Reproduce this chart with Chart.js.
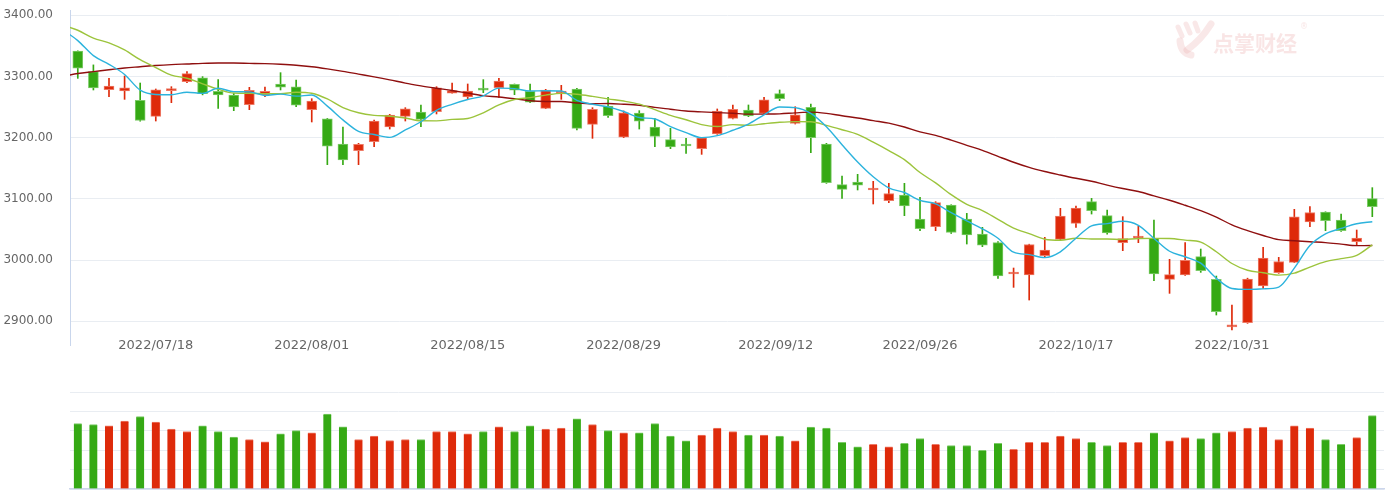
<!DOCTYPE html>
<html><head><meta charset="utf-8">
<script src="https://cdn.jsdelivr.net/npm/chart.js@4.4.0/dist/chart.umd.min.js"></script>
<style>
html,body{margin:0;padding:0;background:#fff;}
#wrap{position:relative;width:1386px;height:490px;overflow:hidden;background:#fff;}
#price{position:absolute;left:0;top:0;}
#vol{position:absolute;left:0;top:365px;}
</style></head><body>
<div id="wrap"><canvas id="price" width="1386" height="365"></canvas><canvas id="vol" width="1386" height="125"></canvas></div>
<script>
const dates = ['2022/07/11','2022/07/12','2022/07/13','2022/07/14','2022/07/15','2022/07/18','2022/07/19','2022/07/20','2022/07/21','2022/07/22','2022/07/25','2022/07/26','2022/07/27','2022/07/28','2022/07/29',
'2022/08/01','2022/08/02','2022/08/03','2022/08/04','2022/08/05','2022/08/08','2022/08/09','2022/08/10','2022/08/11','2022/08/12','2022/08/15','2022/08/16','2022/08/17','2022/08/18','2022/08/19','2022/08/22','2022/08/23','2022/08/24','2022/08/25','2022/08/26','2022/08/29','2022/08/30','2022/08/31',
'2022/09/01','2022/09/02','2022/09/05','2022/09/06','2022/09/07','2022/09/08','2022/09/09','2022/09/13','2022/09/14','2022/09/15','2022/09/16','2022/09/19','2022/09/20','2022/09/21','2022/09/22','2022/09/23','2022/09/26','2022/09/27','2022/09/28','2022/09/29','2022/09/30',
'2022/10/10','2022/10/11','2022/10/12','2022/10/13','2022/10/14','2022/10/17','2022/10/18','2022/10/19','2022/10/20','2022/10/21','2022/10/24','2022/10/25','2022/10/26','2022/10/27','2022/10/28','2022/10/31',
'2022/11/01','2022/11/02','2022/11/03','2022/11/04','2022/11/07','2022/11/08','2022/11/09','2022/11/10','2022/11/11'];

const open = [3341.5,3308,3278.5,3276.3,3261,3235,3277,3291.6,3298,3275.8,
3269.8,3254,3269.8,3287.8,3283,3245.8,3231,3189.7,3178.8,3193.5,
3217.5,3234.9,3242,3242.6,3273,3266.5,3280.6,3281.8,3287.2,3275.8,
3248,3273.1,3279.6,3221.9,3251.8,3200.7,3240.4,3217.5,3196.8,3189.7,
3182.1,3206.1,3231.7,3245.3,3239.8,3272,3223.5,3249.7,3189.7,3123.3,
3127.6,3114.6,3097.1,3106.4,3067.2,3054.6,3090,3067.2,3042.7,3028.5,
2977.3,2975.7,3007.3,3033.9,3060.1,3095.5,3072.6,3028.5,3036,3035.6,
2968.6,2975.7,3005.6,2968.6,2891,2897.8,2957.7,2979.5,2996.4,3062.3,
3078.6,3065.5,3030.1,3100.5];

const high = [3342,3319,3297,3300.8,3289.4,3279.6,3283.4,3308,3299.8,3294.9,
3272.5,3282.3,3282.9,3306.3,3294.3,3263.8,3231.5,3217.5,3190.8,3228.9,
3238.2,3249.1,3253.5,3283.4,3289.4,3287.8,3294.9,3297,3287.8,3287.8,
3279.1,3285.6,3280.7,3249.1,3266,3243.7,3244.2,3231.1,3215.3,3199,
3200.4,3247,3253.5,3253.5,3266,3278,3250.7,3255.1,3190.8,3137.4,
3140.2,3128.7,3125.5,3125.5,3102.6,3095.5,3090.5,3076.4,3053.6,3030.1,
2987.1,3026,3037.2,3084.6,3088.4,3100.9,3081.9,3071,3055.7,3065.5,
3001.3,3028.5,3018.1,2974,2926.6,2970.5,3020.9,3004.5,3083,3087.3,
3079,3075.3,3049.2,3118.4];

const low = [3297,3278,3267,3262.7,3227,3227.3,3257.3,3290,3270,3248,
3244.2,3245.8,3267.1,3278,3250.7,3225.7,3156,3156,3156,3185.4,
3214.2,3227.3,3218.1,3238.8,3273,3263.8,3273.6,3266,3270.3,3257.3,
3247.5,3262.7,3212.6,3199,3233.3,3200.1,3214.2,3185.4,3182.1,3174.5,
3172.8,3205.5,3230.6,3234.4,3238.8,3260.5,3222.4,3175.6,3125.4,3100.9,
3114.6,3091.7,3093.9,3072.6,3048.1,3048.1,3043.5,3026.3,3022,2970.2,
2955.5,2934.8,3005.6,3032.8,3053.6,3075.3,3042.6,3015.4,3028.5,2966.4,
2945.7,2975.2,2980,2910.3,2885.8,2896.7,2953.9,2978.4,2996,3054.6,
3048.1,3047,3024.7,3071];

const close = [3313.6,3281.5,3284.3,3281.7,3228.1,3278.1,3279.4,3304.7,3272.0,3270.0,
3250.4,3277.4,3275.8,3282.6,3253.2,3260.0,3186.3,3163.7,3189.0,3227.0,
3236.9,3247.4,3230.0,3281.7,3276.9,3276.1,3277.9,3292.5,3277.5,3258.1,
3277.8,3276.2,3215.2,3246.3,3236.2,3240.7,3227.2,3202.1,3185.0,3186.5,
3199.9,3243.5,3246.3,3235.6,3262.1,3263.8,3237.5,3199.9,3126.4,3115.6,
3122.4,3117.2,3108.9,3088.4,3051.2,3093.9,3045.1,3041.2,3024.4,2974.2,
2979.8,3025.5,3016.4,3072.0,3084.9,3081.0,3044.4,3035.1,3038.9,2977.6,
2976.3,2999.5,2982.9,2915.9,2893.5,2969.2,3003.4,2997.8,3070.8,3077.8,
3064.5,3048.2,3036.1,3087.3];

const volume = [337.6,332.5,325.6,349.7,373.8,344.5,308.4,296.3,325.6,296.3,
267,255,242.9,284.2,301.5,289.4,385.9,320.4,255,272.2,
249.8,255,255,296.3,296.3,284.2,296.3,320.4,296.3,325.6,
308.4,313.5,361.8,332.5,301.5,289.4,289.4,337.6,272.2,248.1,
277.4,313.5,296.3,277.4,277.4,272.2,248.1,318.7,313.5,241.2,
217.1,230.8,217.1,236,260.1,230.8,224,224,199.8,236,
205,241.2,241.2,272.2,260.1,241.2,224,241.2,241.2,289.4,
248.1,265.3,260.1,289.4,296.3,313.5,318.7,255,325.6,313.5,
255,230.8,265.3,379];

const ma5 = [3358.7,3334.2,3320.0,3303.4,3277.8,3270.7,3270.3,3274.4,3272.5,3280.8,
3275.3,3274.9,3269.1,3271.2,3267.9,3269.8,3251.6,3229.2,3210.4,3205.2,
3200.6,3212.8,3226.1,3244.6,3254.6,3262.4,3268.5,3281.0,3280.2,3276.4,
3276.8,3276.4,3261.0,3254.7,3250.3,3242.9,3233.1,3230.5,3218.2,3208.3,
3200.1,3203.4,3212.2,3222.4,3237.5,3250.3,3249.1,3239.8,3217.9,3188.6,
3160.4,3136.3,3118.1,3110.5,3097.6,3091.9,3077.5,3064.0,3051.2,3035.8,
3012.9,3009.0,3004.1,3013.6,3035.7,3056.0,3059.7,3063.5,3056.9,3035.4,
3014.5,3005.5,2995.0,2970.4,2953.6,2952.2,2953.0,2956.0,2986.9,3023.8,
3042.9,3051.8,3059.5,3062.8];

const ma10 = [3375.6,3362.8,3355.1,3343.4,3327.5,3314.7,3302.3,3297.2,3288.0,3279.3,
3273.0,3272.6,3271.8,3271.9,3274.4,3272.6,3263.3,3249.2,3240.8,3236.6,
3235.2,3232.2,3227.7,3227.5,3229.9,3231.5,3240.7,3253.6,3262.4,3265.5,
3269.6,3272.5,3271.0,3267.5,3263.4,3259.9,3254.8,3245.8,3236.5,3229.3,
3221.5,3218.3,3221.4,3220.3,3222.9,3225.2,3226.3,3226.0,3220.2,3213.1,
3205.4,3192.7,3179.0,3164.2,3143.1,3126.2,3106.9,3091.1,3080.9,3066.7,
3052.4,3043.3,3034.1,3032.4,3035.8,3034.5,3034.4,3033.8,3035.3,3035.6,
3035.3,3032.6,3029.3,3013.7,2994.5,2983.4,2979.3,2975.5,2978.7,2988.7,
2997.6,3002.4,3007.8,3024.9];

const ma30 = [3305,3308,3311,3314,3316,3318,3319.5,3320.5,3321.5,3322,
3322,3321.5,3321,3320,3318.5,3316,3312.5,3308.5,3304,3299.5,
3294.6,3289.2,3284.8,3280.9,3277.2,3272.9,3268.7,3266.6,3263.7,3260.4,
3259.3,3259.1,3256.8,3255.6,3255.8,3254.7,3252.9,3249.5,3246.6,3243.7,
3242.2,3241.0,3240.0,3238.5,3238.6,3239.0,3240.6,3241.8,3239.8,3235.8,
3232.3,3227.9,3223.8,3217.5,3209.6,3203.9,3196.1,3187.6,3179.3,3169.5,
3159.9,3151.5,3144.8,3139.1,3133.7,3128.8,3122.6,3117.0,3112.2,3104.9,
3097.9,3089.6,3080.8,3070.2,3057.6,3048.2,3040.3,3033.5,3031.7,3030.1,
3028.6,3026.2,3023.7,3023.8];

// values of the averages on the trading day before the first one (partly visible at the left edge)
const ma5Prior = 3377.1;
const ma10Prior = 3384.4;
const ma30Prior = 3300.0;

const priceTicks = [2900, 3000, 3100, 3200, 3300, 3400];
const tickDates = ['2022/07/18','2022/08/01','2022/08/15','2022/08/29','2022/09/12','2022/09/26','2022/10/17','2022/10/31'];

// ---------- build ----------
const UP = '#de2a0a', DOWN = '#35a914';
const UP_EDGE = '#ee7a66', DOWN_EDGE = '#7ccb67';
const isUp = i => close[i] >= open[i];
const dayNum = s => Date.UTC(+s.slice(0,4), +s.slice(5,7)-1, +s.slice(8,10)) / 86400000;
function datePos(s) {
  const k = dates.indexOf(s);
  if (k >= 0) return k;
  const d = dayNum(s);
  for (let i = 0; i < dates.length - 1; i++) {
    const a = dayNum(dates[i]), b = dayNum(dates[i+1]);
    if (d > a && d < b) return i + (d - a) / (b - a);
  }
  return 0;
}
const tickPos = tickDates.map(datePos);
const X_MIN = -0.5, X_MAX = dates.length - 0.25;
const noPad = s => { s.paddingTop = 0; s.paddingBottom = 0; s.paddingLeft = 0; s.paddingRight = 0; };

const linePts = (prior, arr) => [{x: -1, y: prior}].concat(arr.map((v, i) => ({x: i, y: v})));
const lineDs = (label, prior, arr, color) => ({
  type: 'line', label, data: linePts(prior, arr), borderColor: color, borderWidth: 1.4,
  pointRadius: 0, cubicInterpolationMode: 'monotone', fill: false, order: 0, clip: 0
});

const watermark = {
  id: 'watermark',
  beforeDatasetsDraw(chart) {
    const c = chart.ctx; c.save();
    c.strokeStyle = 'rgba(232,165,165,0.26)'; c.lineCap = 'round';
    c.lineWidth = 5;
    c.beginPath(); c.moveTo(1178,27); c.lineTo(1182,36); c.stroke();
    c.beginPath(); c.moveTo(1186,24); c.lineTo(1190,33); c.stroke();
    c.beginPath(); c.moveTo(1195,23); c.lineTo(1198,31); c.stroke();
    c.lineWidth = 7;
    c.beginPath(); c.moveTo(1211,24); c.quadraticCurveTo(1201,40,1187,50); c.stroke();
    c.beginPath(); c.moveTo(1180,41); c.quadraticCurveTo(1181,53,1191,55); c.stroke();
    c.fillStyle = 'rgba(232,150,150,0.25)';
    c.font = 'bold 21px "Noto Sans CJK SC"';
    c.textBaseline = 'middle'; c.textAlign = 'left';
    c.fillText('点掌财经', 1213, 43);
    c.font = '8px "DejaVu Sans"';
    c.fillText('®', 1300, 27);
    c.restore();
  }
};

const fontY = {family: '"DejaVu Sans", sans-serif', size: 12};
const fontX = {family: '"DejaVu Sans", sans-serif', size: 13};
const GRID = '#e9edf2';
const AXIS = '#c9d6ec';

new Chart(document.getElementById('price'), {
  type: 'bar',
  data: {
    datasets: [
      lineDs('MA5', ma5Prior, ma5, '#2cb3dd'),
      lineDs('MA10', ma10Prior, ma10, '#9cc43c'),
      lineDs('MA30', ma30Prior, ma30, '#8f0f0f'),
      {
        type: 'bar', label: 'body', order: 2, grouped: false,
        data: open.map((o, i) => ({x: i, y: [o, close[i]]})),
        backgroundColor: open.map((o, i) => isUp(i) ? UP : DOWN),
        borderColor: open.map((o, i) => isUp(i) ? UP_EDGE : DOWN_EDGE),
        borderWidth: 1, borderSkipped: false, barThickness: 10, minBarLength: 2
      },
      {
        type: 'bar', label: 'wick', order: 3, grouped: false,
        data: low.map((l, i) => ({x: i, y: [l, high[i]]})),
        backgroundColor: low.map((l, i) => isUp(i) ? UP : DOWN),
        borderWidth: 0, barThickness: 1
      }
    ]
  },
  options: {
    responsive: false, animation: false,
    layout: {padding: {top: 10, right: 2, left: 0, bottom: 0}},
    plugins: {legend: {display: false}, tooltip: {enabled: false}},
    scales: {
      x: {
        type: 'linear', min: X_MIN, max: X_MAX, offset: false,
        grid: {display: false, drawTicks: false}, border: {display: false},
        afterBuildTicks: s => { s.ticks = tickPos.map(v => ({value: v})); },
        afterFit: s => { s.height = 20; noPad(s); },
        ticks: {
          autoSkip: false, maxRotation: 0, mirror: true, padding: -8.3, color: '#666', font: fontX,
          callback: (v, idx) => tickDates[idx]
        }
      },
      y: {
        type: 'linear', min: 2861.3, max: 3408.7,
        grid: {color: GRID, lineWidth: 1, drawTicks: false},
        border: {display: true, color: AXIS, width: 1},
        afterBuildTicks: s => { s.ticks = priceTicks.map(v => ({value: v})); },
        afterFit: s => { s.width = 70; noPad(s); },
        ticks: {padding: 17, color: '#666', font: fontY, callback: v => Number(v).toFixed(2)}
      }
    }
  },
  plugins: [watermark]
});

new Chart(document.getElementById('vol'), {
  type: 'bar',
  data: {
    datasets: [{
      label: 'volume', grouped: false,
      data: volume.map((v, i) => ({x: i, y: v})),
      backgroundColor: volume.map((v, i) => isUp(i) ? UP : DOWN),
      borderColor: volume.map((v, i) => isUp(i) ? UP_EDGE : DOWN_EDGE),
      borderWidth: {top: 1, left: 0, right: 0, bottom: 0}, borderSkipped: 'bottom', barThickness: 8
    }]
  },
  options: {
    responsive: false, animation: false,
    layout: {padding: {top: 27, right: 2, left: 0, bottom: 1}},
    plugins: {legend: {display: false}, tooltip: {enabled: false}},
    scales: {
      x: {
        type: 'linear', min: X_MIN, max: X_MAX, offset: false,
        grid: {display: false, drawTicks: false},
        border: {display: true, color: '#ccd6eb', width: 1.5},
        ticks: {display: false},
        afterFit: s => { s.height = 0; noPad(s); }
      },
      y: {
        type: 'linear', min: 0, max: 500,
        grid: {color: GRID, lineWidth: 1, drawTicks: false},
        border: {display: false},
        ticks: {display: false, stepSize: 100},
        afterFit: s => { s.width = 70; noPad(s); }
      }
    }
  }
});
</script>
</body></html>
